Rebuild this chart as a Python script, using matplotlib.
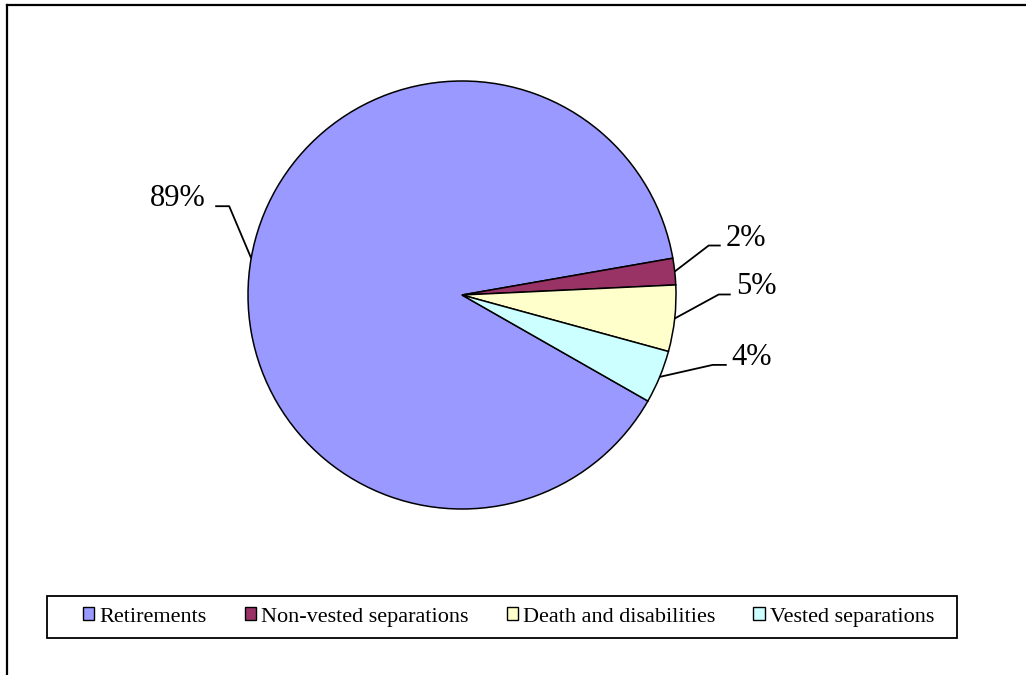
import matplotlib.pyplot as plt
import numpy as np
from matplotlib.patches import Patch, Rectangle
from matplotlib.lines import Line2D

categories = ["Retirements", "Non-vested separations", "Death and disabilities", "Vested separations"]
shares = [89, 2, 5, 4]
colors = ["#9999FF", "#993366", "#FFFFCC", "#CCFFFF"]

W, H = 1026, 675
plt.rcParams['font.family'] = ['Liberation Serif', 'DejaVu Serif']

fig = plt.figure(figsize=(W / 100, H / 100), dpi=100)
ax = fig.add_axes([0, 0, 1, 1])

# pie in pixel units (y up)
cx, cy, r = 462, H - 295, 214
wedges, _ = ax.pie(shares, colors=colors, startangle=-29.7, counterclock=False,
                   center=(cx, cy), radius=r,
                   wedgeprops=dict(edgecolor='black', linewidth=1.1))

# leader layout: elbow offset (dx, dy screen px) and horizontal run
leader = [(-22, -52, -14), (34, -26, 12), (44, -24, 12), (53, -12, 14)]
for w, s, (dx, dy, run) in zip(wedges, shares, leader):
    mid = np.deg2rad((w.theta1 + w.theta2) / 2)
    x0, y0 = cx + r * np.cos(mid), cy + r * np.sin(mid)
    x1, y1 = x0 + dx, y0 - dy
    x2 = x1 + run
    ax.plot([x0, x1, x2], [y0, y1, y1], color='black', lw=1.3, solid_capstyle='butt')
    if run < 0:
        ax.text(x2 - 10, y1, f"{s}%", ha='right', va='baseline', fontsize=22)
    else:
        ax.text(x2 + 5, y1, f"{s}%", ha='left', va='baseline', fontsize=22)

ax.set_xlim(0, W)
ax.set_ylim(0, H)
ax.axis('off')

# outer frame (top and left edges visible)
fig.add_artist(Line2D([7 / W, 1], [1 - 5 / H, 1 - 5 / H], color='black', lw=1.6))
fig.add_artist(Line2D([7 / W, 7 / W], [0, 1 - 5 / H], color='black', lw=1.6))

# legend box
fig.add_artist(Rectangle((47 / W, 1 - 638 / H), 910 / W, 42 / H, transform=fig.transFigure,
                         facecolor='none', edgecolor='black', lw=1.3))

handles = [Patch(facecolor=c, edgecolor='black', linewidth=1.0) for c in colors]
leg = fig.legend(handles, categories, loc='center left', ncol=4,
                 bbox_to_anchor=(83 / W, 1 - 617 / H), fontsize=16,
                 frameon=False, borderaxespad=0, borderpad=0,
                 handlelength=0.5, handleheight=0.5, handletextpad=0.25,
                 columnspacing=1.7)

fig.savefig("out.png", dpi=100)
